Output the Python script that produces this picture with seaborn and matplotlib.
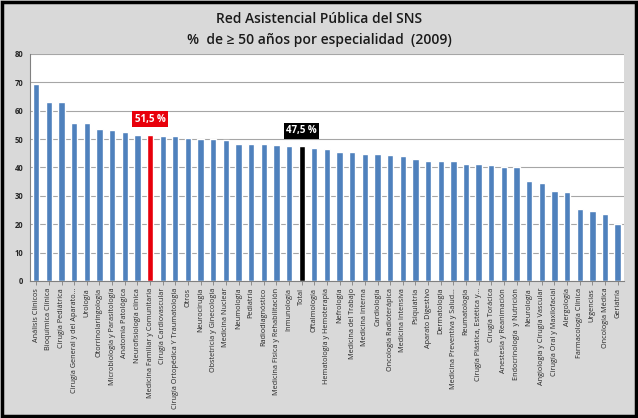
import matplotlib
matplotlib.use("Agg")
import matplotlib.pyplot as plt
import seaborn as sns
import pandas as pd
from matplotlib.patches import Rectangle

categories = [
    "Análisis Clínicos", "Bioquímica Clínica", "Cirugía Pediátrica",
    "Cirugía General y del Aparato...", "Urología", "Otorrinolaringología",
    "Microbiología y Parasitología", "Anatomía Patológica", "Neurofisiología clínica",
    "Medicina Familiar y Comunitaria", "Cirugía Cardiovascular",
    "Cirugía Ortopédica Y Traumatología", "Otros", "Neurocirugía",
    "Obstetricia y Ginecología", "Medicina Nuclear", "Neumología", "Pediatría",
    "Radiodiagnóstico", "Medicina Física y Rehabilitación", "Inmunología", "Total",
    "Oftalmología", "Hematología y Hemoterapia", "Nefrología", "Medicina del Trabajo",
    "Medicina Interna", "Cardiología", "Oncología Radioterápica", "Medicina Intensiva",
    "Psiquiatría", "Aparato Digestivo", "Dermatología", "Medicina Preventiva y Salud...",
    "Reumatología", "Cirugía Plástica, Estética y...", "Cirugía Torácica",
    "Anestesia y Reanimación", "Endocrinología  y Nutrición", "Neurología",
    "Angiología y Cirugía Vascular", "Cirugía Oral y Maxilofacial", "Alergología",
    "Farmacología Clínica", "Urgencias", "Oncología Médica", "Geriatría",
]
values = [
    69.3, 63.2, 63.0, 55.8, 55.5, 53.5, 53.1, 52.4, 51.3, 51.5, 51.2, 50.9, 50.3,
    50.1, 49.9, 49.6, 48.4, 48.1, 48.1, 48.0, 47.7, 47.5, 46.8, 46.4, 45.3, 45.3,
    44.9, 44.6, 44.4, 44.1, 42.8, 42.4, 42.4, 42.1, 41.2, 41.2, 40.8, 40.0, 40.0,
    35.3, 34.5, 31.7, 31.5, 25.3, 24.8, 23.7, 20.2,
]
highlights = {"Medicina Familiar y Comunitaria": ("51,5 %", "#e8000b"),
              "Total": ("47,5 %", "#000000")}
title = "Red Asistencial Pública del SNS\n%  de ≥ 50 años por especialidad  (2009)"
yticks = [0, 10, 20, 30, 40, 50, 60, 70, 80]

base_color = "#4f81bd"
colors = {c: highlights[c][1] if c in highlights else base_color for c in categories}
df = pd.DataFrame({"cat": categories, "val": values})

sns.set_theme(style="white")
plt.rcParams["font.family"] = ["Open Sans", "DejaVu Sans"]

fig = plt.figure(figsize=(6.38, 4.18), dpi=100)
fig.patch.set_facecolor("#d9d9d9")
ax = fig.add_axes([0.047, 0.328, 0.931, 0.543])
ax.set_facecolor("white")

sns.barplot(data=df, x="cat", y="val", hue="cat", palette=colors, legend=False,
            width=0.5, ax=ax, saturation=1)

ax.set_ylim(0, 80)
ax.set_yticks(yticks)
ax.yaxis.grid(True, color="#a6a6a6", linewidth=0.8)
ax.set_axisbelow(True)
ax.set_xlim(-0.5, len(categories) - 0.5)
ax.set_xlabel("")
ax.set_ylabel("")
ax.tick_params(axis="y", labelsize=5.5, length=3, width=0.6, color="#808080", pad=2)
ax.tick_params(axis="x", labelsize=5.2, length=3, width=0.6, color="#808080", pad=2,
               rotation=90, bottom=True)
for lbl in ax.get_yticklabels():
    lbl.set_fontweight("bold")
ax.set_xticks(range(len(categories)))
ax.set_xticklabels(categories, rotation=90, fontsize=5.2)
for s in ["top", "right"]:
    ax.spines[s].set_visible(False)
for s in ["left", "bottom"]:
    ax.spines[s].set_color("#808080")
    ax.spines[s].set_linewidth(0.8)

for cat, (txt, col) in highlights.items():
    i = categories.index(cat)
    v = values[i]
    ax.text(i, v + 3.5, txt, ha="center", va="bottom", color="white", fontsize=7,
            fontweight="bold",
            bbox=dict(boxstyle="square,pad=0.25", facecolor=col, edgecolor="none"))

fig.text(0.5, 0.955, "Red Asistencial Pública del SNS", ha="center", va="center",
         fontsize=10, fontweight="semibold", color="#1a1a1a")
fig.text(0.5, 0.905, "%  de ≥ 50 años por especialidad  (2009)", ha="center",
         va="center", fontsize=10, fontweight="semibold", color="#1a1a1a")

fig.add_artist(Rectangle((0.003, 0.004), 0.994, 0.992, transform=fig.transFigure,
                         fill=False, edgecolor="black", linewidth=2.5))

fig.savefig("out.png", dpi=100, facecolor=fig.get_facecolor())
